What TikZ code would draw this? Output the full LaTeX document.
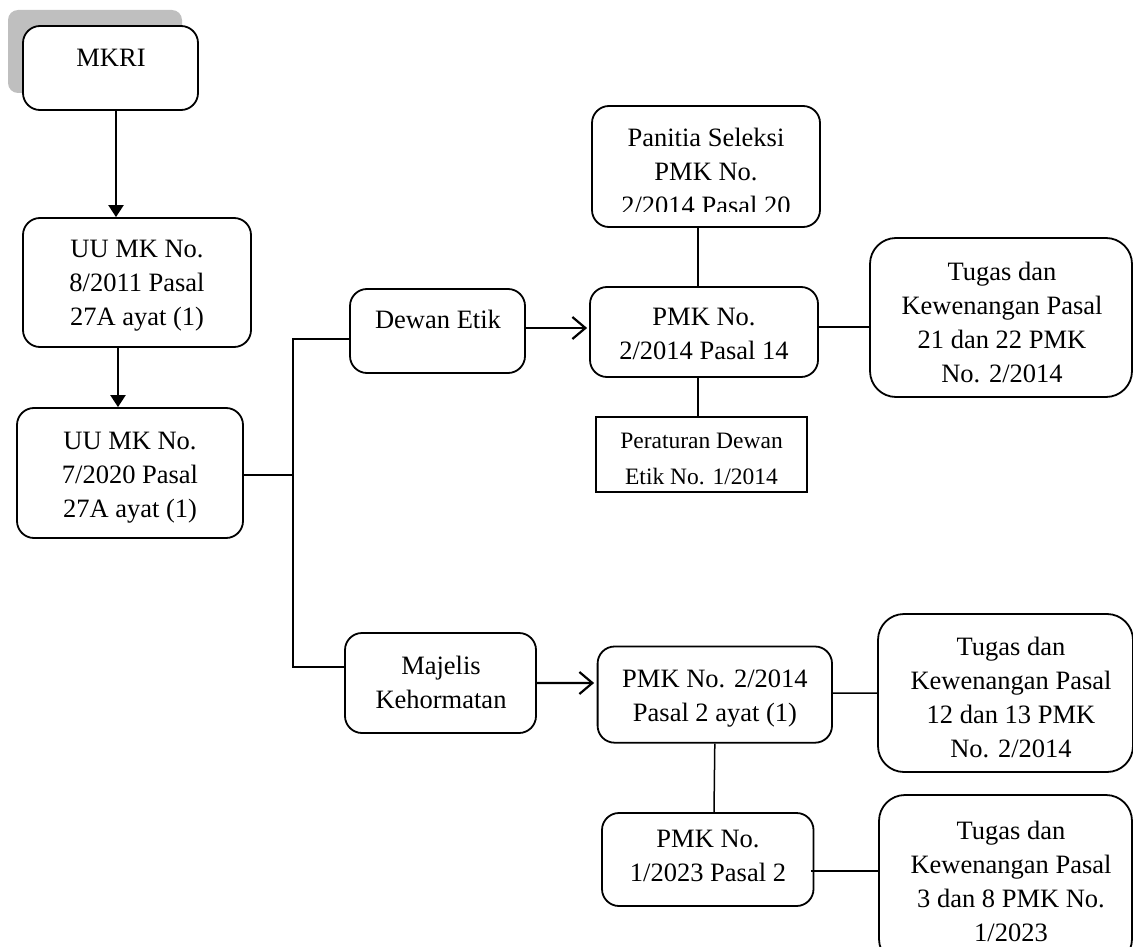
\documentclass[tikz,border=0pt]{standalone}
\usepackage{fontspec}
\setmainfont{Liberation Serif}
\usetikzlibrary{arrows.meta}
\newcommand{\fsmain}{\fontsize{26.5}{34}\selectfont}
\newcommand{\fssmall}{\fontsize{23.5}{36}\selectfont}
\newcommand{\fl}{\rule{0pt}{22pt}}
\newcommand{\rbox}[6]{\node[#1, minimum width={#5-#3}, minimum height={#6-#4}] (#2) at ({(#3+#5)/2},{(#4+#6)/2}) {};}
\begin{document}
\begin{tikzpicture}[x=1pt,y=-1pt,
  shade/.style={fill=black!25, rounded corners=10pt, inner sep=0pt},
  box/.style={draw, line width=1.8pt, rounded corners=17pt, inner sep=0pt, fill=white},
  bigbox/.style={box, rounded corners=26pt},
  sqbox/.style={draw, line width=1.8pt, inner sep=0pt, fill=white},
  txt/.style={anchor=north, inner sep=0pt, align=center, font=\fsmain},
  stxt/.style={txt, font=\fssmall},
  conn/.style={line width=1.5pt},
  arr/.style={line width=2.2pt, -{Triangle[width=15pt,length=12pt]}},
  oarr/.style={line width=2.2pt, -{Straight Barb[width=22pt,length=13pt,line width=2.2pt]}}]
\useasboundingbox (0,0) rectangle (1133,947);
% boxes
\rbox{shade}{shadow}{8}{10}{182}{93}
\rbox{box}{mkri}{23}{26}{198}{110}
\rbox{box}{uu1}{23}{218}{251}{347}
\rbox{box}{uu2}{17}{408}{243}{538}
\rbox{box}{dewan}{350}{289}{525}{373}
\rbox{box}{majelis}{345}{633}{536}{733}
\rbox{box}{panitia}{592}{106}{820}{227}
\rbox{box}{pmk14}{590}{287}{818}{377}
\rbox{sqbox}{peraturan}{596}{417}{807}{492}
\rbox{bigbox}{tugas1}{870}{238}{1132}{397}
\rbox{box}{pmk2}{597.6}{646.5}{832}{742.7}
\rbox{bigbox}{tugas2}{878}{614}{1133}{772}
\rbox{box}{pmk3}{602}{813}{813.5}{906}
\rbox{bigbox}{tugas3}{879}{795}{1132}{965}
% texts (second coordinate: first baseline minus 22)
\node[txt] (t-mkri) at (111,{66-22}) {\fl MKRI};
\node[txt] (t-uu1) at (137,{257-22}) {\fl UU MK No.\\8/2011 Pasal\\27A ayat (1)};
\node[txt] (t-uu2) at (130,{449-22}) {\fl UU MK No.\\7/2020 Pasal\\27A ayat (1)};
\node[txt] (t-dewan) at (438,{328-22}) {\fl Dewan Etik};
\node[txt] (t-majelis) at (441,{674-22}) {\fl Majelis\\Kehormatan};
\begin{scope}
\clip (585,100) rectangle (825,211.5);
\node[txt] (t-panitia) at (706,{146-22}) {\fl Panitia Seleksi\\PMK No.\\2/2014 Pasal 20};
\end{scope}
\node[txt] (t-pmk14) at (704,{325-22}) {\fl PMK No.\\2/2014 Pasal 14};
\node[stxt] (t-peraturan) at (701.5,{448-22}) {\fl Peraturan Dewan\\Etik No. 1/2014};
\node[txt] (t-tugas1) at (1002,{280-22}) {\fl Tugas dan\\Kewenangan Pasal\\21 dan 22 PMK\\No. 2/2014};
\node[txt] (t-pmk2) at (715,{687-22}) {\fl PMK No. 2/2014\\Pasal 2 ayat (1)};
\node[txt] (t-tugas2) at (1011,{655-22}) {\fl Tugas dan\\Kewenangan Pasal\\12 dan 13 PMK\\No. 2/2014};
\node[txt] (t-pmk3) at (708,{847-22}) {\fl PMK No.\\1/2023 Pasal 2};
\node[txt] (t-tugas3) at (1011,{839-22}) {\fl Tugas dan\\Kewenangan Pasal\\3 dan 8 PMK No.\\1/2023};
% connectors
\draw[arr] ([xshift=5.5pt]mkri.south) -- ([xshift=-21pt]uu1.north);
\draw[arr] ([xshift=-19pt]uu1.south) -- ([xshift=-12pt]uu2.north);
\coordinate (j1) at (293,475);
\coordinate (j2) at (293,339);
\coordinate (j3) at (293,667);
\draw[conn] (uu2.east |- j1) -- (j1);
\draw[conn] (dewan.west |- j2) -- (j2) -- (j3) -- (majelis.west |- j3);
\draw[oarr] ([yshift=3pt]dewan.east) -- ([yshift=4pt,xshift=-2pt]pmk14.west);
\draw[oarr] (majelis.east) -- ([yshift=11.6pt,xshift=-2.6pt]pmk2.west);
\draw[conn] ([xshift=-8pt]panitia.south) -- ([xshift=-6pt]pmk14.north);
\draw[conn] ([xshift=-6pt]pmk14.south) -- ([xshift=-3.5pt]peraturan.north);
\draw[conn] ([yshift=5pt]pmk14.east) -- ([yshift=-9.5pt]tugas1.west);
\draw[conn] ([yshift=1.6pt]pmk2.east) -- (tugas2.west);
\draw[conn] (pmk2.south) -- ([xshift=6.25pt]pmk3.north);
\draw[conn] ([yshift=-11.5pt,xshift=-3.5pt]pmk3.east) -- ([yshift=9pt]tugas3.west);
\end{tikzpicture}
\end{document}
